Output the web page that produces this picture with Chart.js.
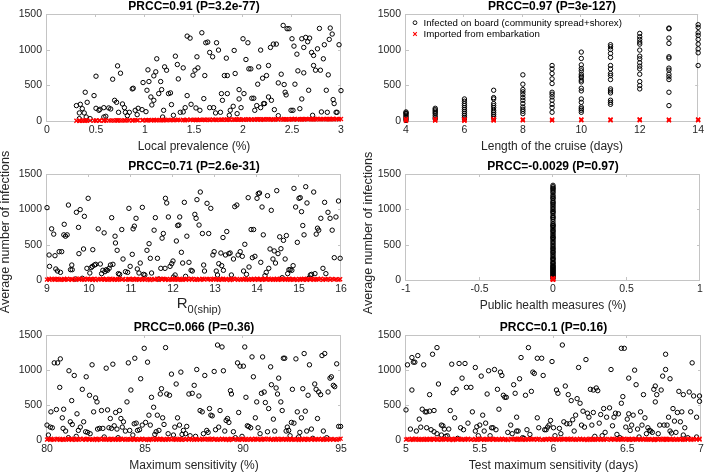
<!DOCTYPE html>
<html>
<head>
<meta charset="utf-8">
<script src="https://cdn.jsdelivr.net/npm/chart.js@4.4.1/dist/chart.umd.min.js"></script>
<style>
  body { margin: 0; background: #fff; }
  #wrap { position: relative; width: 707px; height: 472px; overflow: hidden; }
  #wrap canvas { position: absolute; left: 0; top: 0; pointer-events: none; }
</style>
</head>
<body>
<div id="wrap">
  <canvas id="prevalence" width="707" height="472"></canvas>
  <canvas id="cruise" width="707" height="472"></canvas>
  <canvas id="r0" width="707" height="472"></canvas>
  <canvas id="health" width="707" height="472"></canvas>
  <canvas id="sensitivity" width="707" height="472"></canvas>
  <canvas id="testdays" width="707" height="472"></canvas>
</div>
<script>
// ---- data ----
const yTicks = [0, 500, 1000, 1500];

// local prevalence (%)
const prevTicks = [0, 0.5, 1, 1.5, 2, 2.5, 3];
const prevX = [
  0.30,0.33,0.34,0.36,0.38,0.39,0.41,0.33,0.40,0.44,
  0.48,0.50,0.50,0.53,0.54,0.58,0.58,0.60,0.63,0.65,
  0.67,0.69,0.71,0.72,0.75,0.73,0.77,0.79,0.80,0.82,
  0.84,0.87,0.88,0.90,0.92,0.93,0.97,0.98,1.01,1.02,
  1.03,1.04,1.06,1.07,1.09,1.09,1.11,1.12,1.14,1.16,
  1.17,1.18,1.19,1.20,1.22,1.24,1.26,1.27,1.29,1.31,
  1.33,1.34,1.36,1.39,1.39,1.41,1.43,1.43,1.46,1.47,
  1.49,1.51,1.52,1.53,1.54,1.56,1.58,1.60,1.61,1.62,
  1.64,1.66,1.66,1.69,1.70,1.72,1.73,1.75,1.77,1.78,
  1.79,1.81,1.83,1.84,1.84,1.86,1.87,1.90,1.91,1.92,
  1.94,1.96,1.96,1.98,2.00,2.01,2.03,2.05,2.06,2.08,
  2.09,2.11,2.12,2.14,2.15,2.16,2.18,2.18,2.20,2.21,
  2.22,2.24,2.26,2.26,2.28,2.29,2.31,2.32,2.34,2.36,
  2.36,2.39,2.41,2.42,2.43,2.44,2.45,2.47,2.49,2.50,
  2.51,2.52,2.53,2.55,2.56,2.58,2.60,2.60,2.62,2.62,
  2.64,2.66,2.67,2.68,2.70,2.71,2.72,2.72,2.74,2.76,
  2.78,2.79,2.80,2.82,2.83,2.85,2.86,2.87,2.88,2.89,
  2.91,2.92,2.93,2.95,2.96,2.98,3.00
];
const prevInf = [
  216,113,234,173,113,403,262,33,56,33,
  356,628,178,150,164,187,56,66,183,169,
  586,290,262,773,670,122,239,187,122,75,
  122,450,459,150,89,178,159,539,131,431,
  717,553,337,225,633,290,689,872,384,553,
  440,56,150,759,712,384,394,230,80,909,
  792,590,122,745,127,187,356,1190,1162,234,
  642,712,183,900,745,150,1237,314,637,1097,
  1106,187,961,900,187,113,1097,994,122,384,
  290,637,881,384,637,80,150,206,989,666,
  103,309,440,187,1153,384,862,1097,731,731,
  319,319,150,216,516,759,994,187,600,244,
  244,637,778,337,1031,290,1078,159,1078,75,
  534,656,1340,511,403,366,1294,1294,150,1153,
  150,1050,516,937,703,173,309,1153,1031,675,
  1172,1111,431,1162,961,80,778,919,712,1012,
  1298,712,127,872,1069,431,122,647,1144,1303,
  1219,300,244,122,122,1069,426
];
const prevImp = [
  3,6,2,5,8,4,7,2,9,5,
  6,3,9,5,7,4,10,6,8,5,
  9,6,11,7,5,10,8,12,6,9,
  11,7,10,13,8,12,9,14,10,8,
  12,15,9,13,11,16,10,14,12,9,
  15,11,13,17,10,14,12,16,11,15,
  13,18,12,16,14,11,17,13,15,19,
  12,16,14,18,13,17,15,20,14,16,
  19,13,17,21,15,18,14,20,16,19,
  17,22,15,19,18,21,16,20,23,17,
  21,19,24,16,22,18,20,25,17,23,
  19,22,18,24,21,26,20,17,23,25,
  19,24,22,27,20,25,18,23,26,21,
  24,28,20,25,22,27,23,19,26,28,
  22,25,29,21,27,24,20,28,25,23,
  29,22,26,30,24,27,21,28,25,31,
  23,27,24,29,26,22,30,25,28,24,27,31,23,26,29,25,28
];

// length of the cruise (days)
const cruiseTicks = [4, 6, 8, 10, 12, 14];
const cruiseX = [
  4,4,4,4,4,4,4,4,
  5,5,5,5,5,5,5,5,
  6,6,6,6,6,6,6,6,6,6,6,
  7,7,7,7,7,7,7,7,7,7,7,
  8,8,8,8,8,8,8,8,8,8,8,8,
  9,9,9,9,9,9,9,9,9,9,9,9,
  10,10,10,10,10,10,10,10,10,10,10,10,10,10,10,10,10,10,
  11,11,11,11,11,11,11,11,11,11,11,11,11,11,11,11,
  12,12,12,12,12,12,12,12,12,12,12,12,12,12,12,
  13,13,13,13,13,13,13,13,13,13,13,13,13,
  14,14,14,14,14,14,14,14,14
];
const cruiseInf = [
  127,103,84,66,47,28,9,113,
  178,159,141,122,103,75,47,28,
  309,277,244,216,187,159,131,103,75,47,28,
  431,328,309,244,216,187,150,122,94,66,38,
  647,516,441,408,370,328,290,244,197,164,136,103,
  778,731,666,591,525,403,375,337,291,234,188,122,
  966,877,787,736,703,656,628,609,572,548,459,422,309,262,197,173,150,122,
  1069,1041,1003,947,891,778,731,666,637,581,450,422,394,291,262,234,
  1228,1181,1144,1106,1078,994,909,872,816,769,731,656,553,497,450,
  1303,1294,1162,1088,900,881,741,712,656,619,581,403,216,
  1350,1312,1237,1200,1144,1078,1012,956,778
];
const cruiseImpX = [4,4,4,4,5,5,5,5,6,6,6,6,7,7,7,7,8,8,8,9,9,9,10,10,10,11,11,11,12,12,12,13,13,13,14,14,14];
const cruiseImp  = [4,11,19,28,5,12,20,29,3,10,18,27,6,13,21,28,9,15,21,8,14,20,10,16,22,9,15,21,11,17,23,9,15,20,10,16,22];

// R0 (ship)
const r0Ticks = [9, 10, 11, 12, 13, 14, 15, 16];
const r0X = [
  9.00,9.05,9.06,9.11,9.16,9.19,9.21,9.25,9.29,9.32,
  9.35,9.40,9.41,9.44,9.48,9.51,9.56,9.59,9.60,9.68,
  9.70,9.75,9.76,9.79,9.84,9.87,9.89,9.95,9.98,10.02,
  10.05,10.08,10.09,10.13,10.16,10.22,10.27,10.30,10.33,10.36,
  10.38,10.41,10.44,10.48,10.51,10.54,10.57,10.62,10.63,10.67,
  10.70,10.73,10.78,10.81,10.87,10.92,10.95,10.98,11.03,11.05,
  11.08,11.12,11.15,11.19,11.22,11.27,11.30,11.33,11.38,11.43,
  11.46,11.49,11.55,11.58,11.63,11.66,11.71,11.74,11.77,11.81,
  11.82,11.85,11.89,11.93,11.97,12.00,12.01,12.05,12.08,12.11,
  12.14,12.16,12.20,12.23,12.27,12.30,12.33,12.38,12.43,12.46,
  12.52,12.55,12.57,12.62,12.65,12.70,12.73,12.75,12.81,12.85,
  12.90,12.95,12.98,13.03,13.06,13.09,13.14,13.16,13.19,13.20,
  13.25,13.28,13.33,13.36,13.39,13.44,13.47,13.52,13.55,13.60,
  13.65,13.68,13.71,13.75,13.79,13.81,13.86,13.89,13.92,13.95,
  14.00,14.03,14.06,14.09,14.12,14.15,14.19,14.22,14.25,14.28,
  14.31,14.34,14.38,14.41,14.44,14.47,14.50,14.54,14.57,14.60,
  14.63,14.67,14.70,14.73,14.76,14.79,14.83,14.86,14.88,14.92,
  14.96,15.00,15.03,15.06,15.09,15.12,15.16,15.19,15.23,15.27,
  15.30,15.35,15.38,15.41,15.44,15.47,15.52,15.57,15.61,15.64,
  15.69,15.74,15.79,15.84,15.88,15.94,15.98
];
const r0Inf = [
  1024,354,193,724,649,344,156,127,401,108,
  401,639,788,620,639,1061,146,212,146,14,
  958,745,373,996,24,439,901,165,1156,99,
  175,193,429,212,222,724,226,90,137,667,
  118,146,137,165,212,882,222,620,524,420,
  90,80,714,297,118,108,1014,193,363,724,
  762,873,156,99,240,1028,80,71,420,514,
  307,99,705,882,307,14,165,592,658,165,
  1156,1090,892,193,231,269,42,71,552,771,
  778,892,392,240,1099,52,620,250,137,127,
  929,873,1137,778,1245,658,212,127,1085,658,
  1014,354,401,127,71,231,382,203,601,137,
  354,686,373,382,71,297,1038,1061,354,401,
  335,127,505,80,1165,184,714,316,714,335,
  1156,1222,1231,250,1033,639,61,108,1193,165,
  439,986,297,411,240,1264,373,611,443,33,
  561,297,629,90,146,146,137,203,1297,1033,
  533,1156,1165,967,771,639,1320,1090,24,71,
  80,1245,90,649,733,705,873,165,1099,90,
  958,873,705,316,892,1118,307
];

// imported cases, the flat red band seen along y = 0
const bandImp = [
  6,14,2,18,9,4,12,19,7,1, 11,16,4,8,19,5,13,1,10,17,
  3,12,8,20,5,15,2,10,18,7, 13,3,9,17,0,11,15,5,19,8,
  6,14,1,10,18,4,12,7,16,2, 9,19,6,14,1,11,16,5,8,18,
  3,12,15,2,10,7,18,4,13,9, 0,16,11,6,20,3,14,8,17,10,
  4,12,1,15,7,19,5,11,14,2, 9,17,6,1,13,8,16,4,19,10,
  2,15,7,12,3,18,9,6,16,14, 3,10,20,7,11,1,15,5,17,8,
  12,4,14,0,10,19,6,16,2,9, 13,4,19,8,11,2,16,7,15,3,
  18,10,6,14,1,12,17,7,9,20, 5,11,3,15,8,17,1,10,14,6,
  16,4,12,9,19,2,8,15,6,11, 0,16,7,13,4,19,10,2,14,7,
  17,3,12,9,15,5,18,1,11,8, 14,3,16,6,12,4,11,19,1,9,
  15,6,14,8,17
];

// public health measures (%), all runs at 0
const healthTicks = [-1, -0.5, 0, 0.5, 1];
const healthLevel = 0;
const healthInf = [
  1340,1320,1300,1290,1270,1250,1230,1200,1180,1160,1150,1120,1100,1090,1070,1050,1030,1010,990,970,
  960,940,910,890,880,860,830,800,780,770,760,740,720,700,690,670,650,630,610,600,
  590,570,550,530,510,490,470,450,440,420,400,390,370,350,330,310,300,290,270,250,
  240,230,210,200,190,180,170,160,150,140,130,120,110,100,90,80,70,60,50,40,30,20
];
const healthImp = [3,7,11,15,19,23,27,9,17,5,13,21];

// maximum sensitivity (%)
const sensTicks = [80, 85, 90, 95];
const sensX = [
  80.00,80.07,80.17,80.20,80.27,80.37,80.48,80.54,80.65,80.68,
  80.78,80.82,80.85,80.95,81.09,81.12,81.19,81.26,81.29,81.39,
  81.49,81.53,81.60,81.70,81.80,81.87,81.97,82.00,82.07,82.17,
  82.20,82.30,82.38,82.48,82.55,82.58,82.68,82.78,82.85,82.92,
  83.02,83.09,83.16,83.23,83.29,83.36,83.43,83.50,83.57,83.63,
  83.70,83.77,83.84,83.90,84.00,84.08,84.15,84.22,84.28,84.38,
  84.45,84.48,84.55,84.62,84.72,84.78,84.86,84.96,85.03,85.13,
  85.20,85.27,85.33,85.44,85.50,85.57,85.63,85.71,85.78,85.84,
  85.90,85.97,86.05,86.11,86.18,86.25,86.35,86.45,86.52,86.59,
  86.66,86.76,86.83,86.89,86.96,87.07,87.13,87.24,87.30,87.41,
  87.51,87.58,87.64,87.75,87.81,87.92,87.98,88.05,88.15,88.22,
  88.29,88.36,88.43,88.53,88.60,88.70,88.76,88.83,88.93,89.00,
  89.07,89.14,89.21,89.28,89.36,89.41,89.51,89.61,89.72,89.78,
  89.85,89.95,90.02,90.09,90.15,90.22,90.29,90.39,90.46,90.53,
  90.63,90.70,90.77,90.87,90.94,91.00,91.08,91.14,91.25,91.31,
  91.41,91.45,91.55,91.62,91.69,91.76,91.82,91.93,92.00,92.06,
  92.13,92.20,92.26,92.33,92.40,92.47,92.52,92.60,92.70,92.77,
  92.84,92.90,92.98,93.05,93.12,93.18,93.25,93.32,93.39,93.49,
  93.56,93.66,93.73,93.80,93.86,93.96,94.03,94.10,94.17,94.27,
  94.34,94.44,94.51,94.61,94.68,94.78,94.88,94.98
];
const sensInf = [
  213,71,184,402,175,1102,435,1102,752,1159,
  317,166,440,128,33,989,260,563,222,922,
  52,374,137,184,724,260,118,903,109,639,
  90,1074,402,601,544,156,166,421,166,43,
  1026,430,175,307,166,1083,203,393,156,33,
  421,307,184,260,128,544,1102,137,714,71,
  232,1168,241,137,147,875,213,1310,251,1112,
  355,213,610,468,80,118,355,137,657,733,
  317,222,1320,657,90,639,941,71,184,800,
  317,213,970,80,137,90,194,657,61,667,
  781,52,1007,629,421,402,90,922,137,109,
  449,355,345,979,147,1357,184,421,1329,989,
  128,279,307,251,705,657,118,33,1102,393,
  1055,52,1055,1329,610,203,194,175,1187,903,
  317,544,175,90,667,1187,686,535,118,449,
  1045,790,298,128,743,657,884,544,421,1168,
  1168,128,184,137,61,251,724,241,1159,402,
  43,109,317,733,1235,412,128,639,1074,156,
  24,800,724,307,686,648,1206,128,1235,33,
  686,884,903,781,762,1088,194,194
];

// test maximum sensitivity (days)
const testTicks = [5, 5.5, 6, 6.5, 7];
const testX = [
  5.00,5.01,5.03,5.04,5.04,5.05,5.06,5.07,5.08,5.09,
  5.10,5.11,5.12,5.13,5.14,5.14,5.16,5.16,5.17,5.18,
  5.19,5.19,5.21,5.21,5.22,5.24,5.24,5.25,5.26,5.27,
  5.28,5.29,5.30,5.31,5.32,5.33,5.34,5.35,5.36,5.37,
  5.38,5.39,5.40,5.41,5.42,5.44,5.45,5.47,5.47,5.48,
  5.49,5.50,5.51,5.52,5.53,5.54,5.55,5.56,5.57,5.58,
  5.59,5.60,5.61,5.62,5.63,5.64,5.65,5.66,5.67,5.68,
  5.69,5.71,5.72,5.73,5.74,5.75,5.75,5.76,5.77,5.78,
  5.79,5.80,5.81,5.82,5.83,5.84,5.85,5.86,5.87,5.89,
  5.89,5.90,5.92,5.93,5.94,5.95,5.96,5.97,5.98,5.99,
  6.00,6.01,6.02,6.03,6.04,6.05,6.06,6.07,6.08,6.09,
  6.10,6.11,6.12,6.13,6.14,6.15,6.16,6.17,6.18,6.19,
  6.20,6.21,6.22,6.23,6.24,6.25,6.26,6.27,6.27,6.28,
  6.29,6.30,6.31,6.32,6.33,6.34,6.35,6.36,6.38,6.39,
  6.40,6.41,6.42,6.43,6.44,6.45,6.46,6.46,6.47,6.48,
  6.49,6.50,6.51,6.51,6.52,6.53,6.54,6.55,6.56,6.57,
  6.58,6.59,6.60,6.61,6.62,6.63,6.64,6.65,6.66,6.67,
  6.68,6.69,6.69,6.70,6.71,6.72,6.73,6.74,6.75,6.76,
  6.76,6.77,6.78,6.79,6.79,6.80,6.81,6.82,6.83,6.84,
  6.85,6.86,6.87,6.88,6.88,6.89,6.91,6.92,6.93,6.94,
  6.95,6.97,6.97,6.99,6.99
];
const testInf = [
  430,1074,156,1178,714,1112,1112,128,1206,298,
  184,440,1074,402,175,402,412,648,147,1225,
  421,118,1320,90,800,71,213,203,156,52,
  61,156,421,1083,676,317,724,24,1093,175,
  884,147,1093,752,241,752,402,1036,128,189,
  61,213,913,355,128,241,657,989,61,175,
  175,1007,147,724,440,970,922,639,610,610,
  109,213,90,790,667,326,128,128,875,1178,
  33,24,639,147,1320,80,695,970,951,1168,
  317,175,1168,922,147,147,184,213,279,1121,
  175,61,714,667,166,90,1357,260,771,232,
  648,232,563,289,128,355,591,1036,525,213,
  412,184,1149,383,326,724,213,714,393,52,
  743,705,241,364,61,449,109,326,459,1007,
  203,326,383,80,374,33,525,1310,620,1310,
  184,298,374,884,137,213,355,998,790,156,
  43,402,213,648,317,90,175,137,128,109,
  724,544,771,648,90,213,714,913,213,1007,
  1225,213,326,875,128,99,449,270,109,393,
  695,260,402,71,648,175,33,686,402,1102,
  629,43,326,553,629
];

// ---- drawing ----
const W = 707, H = 472;
const Y_AXIS_W = 40, X_AXIS_H = 20;
const FONT = '"Liberation Sans", Arial, Helvetica, sans-serif';
const BOX_COLOR = '#c4c4c4';
const TEXT_COLOR = '#262626';

Chart.defaults.font.family = FONT;
Chart.defaults.color = TEXT_COLOR;
Chart.defaults.animation = false;

function pts(xs, ys) {
  const n = Math.min(xs.length, ys.length);
  const out = [];
  for (let i = 0; i < n; i++) out.push({ x: xs[i], y: ys[i] });
  return out;
}
function atLevel(level, ys) {
  return ys.map(v => ({ x: level, y: v }));
}

// matlab-like box, inner ticks, titles, labels, legend
const matlabAxes = {
  id: 'matlab',
  beforeDatasetsDraw(chart, args, opts) {
    const { ctx, chartArea: a, scales } = chart;
    const tl = 3;
    ctx.save();
    ctx.strokeStyle = BOX_COLOR;
    ctx.lineWidth = 1;
    ctx.strokeRect(Math.round(a.left) - 0.5, Math.round(a.top) + 0.5,
                   Math.round(a.right - a.left), Math.round(a.bottom - a.top));
    ctx.beginPath();
    scales.x.ticks.forEach(t => {
      const px = Math.round(scales.x.getPixelForValue(t.value)) - 0.5;
      ctx.moveTo(px, a.bottom); ctx.lineTo(px, a.bottom - tl);
      ctx.moveTo(px, a.top); ctx.lineTo(px, a.top + tl);
    });
    scales.y.ticks.forEach(t => {
      const py = Math.round(scales.y.getPixelForValue(t.value)) + 0.5;
      ctx.moveTo(a.left, py); ctx.lineTo(a.left + tl, py);
      ctx.moveTo(a.right, py); ctx.lineTo(a.right - tl, py);
    });
    ctx.stroke();
    ctx.restore();
  },
  afterDraw(chart, args, opts) {
    const { ctx, chartArea: a } = chart;
    const cx = (a.left + a.right) / 2;
    ctx.save();
    ctx.textAlign = 'center';
    ctx.textBaseline = 'alphabetic';

    ctx.fillStyle = '#000';
    ctx.font = 'bold 12px ' + FONT;
    ctx.fillText(opts.title, cx, a.top - 4);

    ctx.fillStyle = TEXT_COLOR;
    if (typeof opts.xlabel === 'string') {
      ctx.font = '12px ' + FONT;
      ctx.fillText(opts.xlabel, cx, a.bottom + 29);
    } else if (opts.xlabel) {
      const { main, sub } = opts.xlabel;
      ctx.font = '15px ' + FONT;
      const wm = ctx.measureText(main).width;
      ctx.font = '11px ' + FONT;
      const ws = ctx.measureText(sub).width;
      const x0 = cx + 5 - (wm + ws) / 2;
      ctx.textAlign = 'left';
      ctx.font = '15px ' + FONT;
      ctx.fillText(main, x0, a.bottom + 28);
      ctx.font = '11px ' + FONT;
      ctx.fillText(sub, x0 + wm, a.bottom + 33);
      ctx.textAlign = 'center';
    }

    if (opts.ylabel) {
      ctx.save();
      ctx.translate(opts.ylabel.x, opts.ylabel.y);
      ctx.rotate(-Math.PI / 2);
      ctx.font = '12.5px ' + FONT;
      ctx.textBaseline = 'middle';
      ctx.fillText(opts.ylabel.text, 0, 0);
      ctx.restore();
    }

    if (opts.legend) {
      const ds = chart.data.datasets;
      const black = ds[1], red = ds[0];
      const mx = a.left + 9, row1 = a.top + 8.7, row2 = a.top + 20;
      ctx.textAlign = 'left';
      ctx.textBaseline = 'middle';
      ctx.font = '9.7px ' + FONT;
      ctx.fillStyle = '#000';
      ctx.strokeStyle = black.borderColor;
      ctx.lineWidth = 0.9;
      ctx.beginPath();
      ctx.arc(mx, row1, 1.9, 0, Math.PI * 2);
      ctx.stroke();
      ctx.fillText(black.label, a.left + 17.5, row1 + 0.5);
      ctx.strokeStyle = red.borderColor;
      ctx.lineWidth = 1.1;
      ctx.beginPath();
      ctx.moveTo(mx - 1.8, row2 - 1.8); ctx.lineTo(mx + 1.8, row2 + 1.8);
      ctx.moveTo(mx + 1.8, row2 - 1.8); ctx.lineTo(mx - 1.8, row2 + 1.8);
      ctx.stroke();
      ctx.fillText(red.label, a.left + 17.5, row2 + 0.5);
    }
    ctx.restore();
  }
};

function scatterPanel(id, area, xMin, xMax, xTicks, black, red, deco) {
  const [l, t, r, b] = area;
  return new Chart(document.getElementById(id), {
    type: 'scatter',
    data: {
      datasets: [
        {
          label: 'Imported from embarkation',
          data: red,
          pointStyle: 'crossRot',
          pointRadius: 2.8,
          borderColor: '#ff0000',
          backgroundColor: '#ff0000',
          borderWidth: 1.3,
          clip: false
        },
        {
          label: 'Infected on board (community spread+shorex)',
          data: black,
          pointStyle: 'circle',
          pointRadius: 2.2,
          borderColor: '#000000',
          backgroundColor: 'rgba(0,0,0,0)',
          borderWidth: 1,
          clip: false
        }
      ]
    },
    options: {
      responsive: false,
      events: [],
      layout: { padding: { left: l - Y_AXIS_W, top: t, right: W - r, bottom: H - b - X_AXIS_H } },
      plugins: {
        legend: { display: false },
        tooltip: { enabled: false },
        matlab: deco
      },
      scales: {
        x: {
          type: 'linear',
          min: xMin,
          max: xMax,
          afterBuildTicks: s => { s.ticks = xTicks.map(v => ({ value: v })); },
          afterFit: s => { s.height = X_AXIS_H; },
          grid: { display: false, drawTicks: false },
          border: { display: false },
          ticks: {
            font: { size: 10.5 },
            color: TEXT_COLOR,
            padding: 3,
            maxRotation: 0,
            autoSkip: false,
            callback: v => String(v)
          }
        },
        y: {
          type: 'linear',
          min: 0,
          max: 1500,
          afterBuildTicks: s => { s.ticks = yTicks.map(v => ({ value: v })); },
          afterFit: s => { s.width = Y_AXIS_W; },
          grid: { display: false, drawTicks: false },
          border: { display: false },
          ticks: {
            font: { size: 10.5 },
            color: TEXT_COLOR,
            padding: 5,
            callback: v => String(v)
          }
        }
      }
    },
    plugins: [matlabAxes]
  });
}

const ylabelText = 'Average number of infections';

scatterPanel('prevalence', [47, 14, 341, 121], 0, 3, prevTicks,
  pts(prevX, prevInf), pts(prevX, prevImp),
  { title: 'PRCC=0.91 (P=3.2e-77)', xlabel: 'Local prevalence (%)' });

scatterPanel('cruise', [406, 14, 701, 121], 4, 14, cruiseTicks,
  pts(cruiseX, cruiseInf), pts(cruiseImpX, cruiseImp),
  { title: 'PRCC=0.97 (P=3e-127)', xlabel: 'Length of the cruise (days)', legend: true });

scatterPanel('r0', [47, 174, 341, 280], 9, 16, r0Ticks,
  pts(r0X, r0Inf), pts(r0X, bandImp),
  { title: 'PRCC=0.71 (P=2.6e-31)', xlabel: { main: 'R', sub: '0(ship)' },
    ylabel: { text: ylabelText, x: 6, y: 232 } });

scatterPanel('health', [406, 174, 700, 280], -1, 1, healthTicks,
  atLevel(healthLevel, healthInf), atLevel(healthLevel, healthImp),
  { title: 'PRCC=-0.0029 (P=0.97)', xlabel: 'Public health measures (%)',
    ylabel: { text: ylabelText, x: 369, y: 233 } });

scatterPanel('sensitivity', [47, 335, 341, 440], 80, 95, sensTicks,
  pts(sensX, sensInf), pts(sensX, bandImp),
  { title: 'PRCC=0.066 (P=0.36)', xlabel: 'Maximum sensitivity (%)' });

scatterPanel('testdays', [406, 335, 701, 440], 5, 7, testTicks,
  pts(testX, testInf), pts(testX, bandImp),
  { title: 'PRCC=0.1 (P=0.16)', xlabel: 'Test maximum sensitivity (days)' });
</script>
</body>
</html>
